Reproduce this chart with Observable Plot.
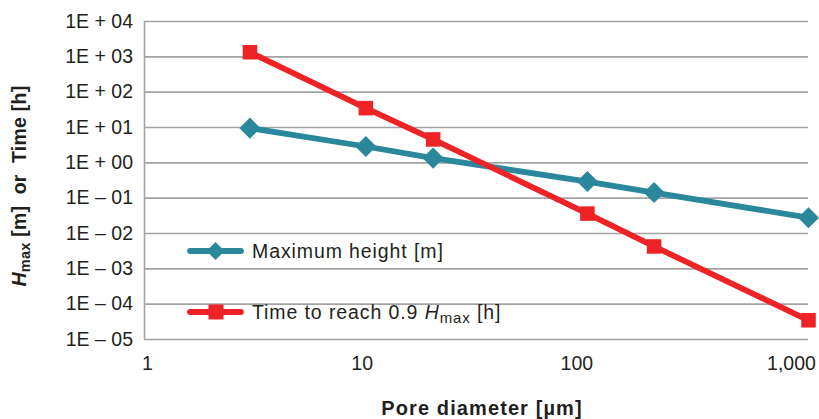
<!DOCTYPE html>
<html><head><meta charset="utf-8">
<script src="https://cdn.jsdelivr.net/npm/d3@7"></script>
<script src="https://cdn.jsdelivr.net/npm/@observablehq/plot@0.6"></script>
<style>
body{margin:0;background:#fff;font-family:"Liberation Sans",Arial,sans-serif;}
#c{position:relative;width:819px;height:419px;overflow:hidden}
</style>
</head><body><div id="c"></div>
<script>
const poreDiameter = [3, 10.4, 21.4, 112, 229, 1200];
const maxHeight = [9.6, 2.9, 1.36, 0.296, 0.144, 0.028];
const timeToReach = [1350, 35.3, 4.6, 0.0366, 0.0043, 0.000035];
const seriesNames = ["Maximum height [m]", "Time to reach 0.9 Hmax [h]"];
const seriesColors = ["#2b879b", "#ee2326"];
const yTicks = [1e-5, 1e-4, 1e-3, 1e-2, 1e-1, 1e0, 1e1, 1e2, 1e3, 1e4];
const yTickLabels = ["1E \u2013 05","1E \u2013 04","1E \u2013 03","1E \u2013 02","1E \u2013 01","1E + 00","1E + 01","1E + 02","1E + 03","1E + 04"];
const xTicks = [1, 10, 100, 1000];
const xTickLabels = ["1", "10", "100", "1,000"];

const rows = [];
poreDiameter.forEach((d, i) => rows.push({x: d, y: maxHeight[i], s: seriesNames[0]}));
poreDiameter.forEach((d, i) => rows.push({x: d, y: timeToReach[i], s: seriesNames[1]}));
const hRows = rows.filter(r => r.s === seriesNames[0]);
const tRows = rows.filter(r => r.s === seriesNames[1]);

const xDomain = [0.968, 1200];
const textColor = "#231f20";
const gridColor = "#a3a3a3";

const chart = Plot.plot({
  width: 819, height: 419,
  marginTop: 21, marginBottom: 80, marginLeft: 144, marginRight: 11,
  style: {fontFamily: "Liberation Sans, Arial, sans-serif", color: textColor, background: "#fff"},
  x: {type: "log", domain: xDomain},
  y: {type: "log", domain: [1e-5, 1e4]},
  marks: [
    Plot.gridY(yTicks, {stroke: gridColor, strokeOpacity: 1, strokeWidth: 1.6}),
    Plot.ruleX([xDomain[0]], {stroke: gridColor, strokeWidth: 1.6}),
    Plot.axisY({ticks: yTicks, tickSize: 0, tickPadding: 11.5, fontSize: 19.5, label: null,
      style: {letterSpacing: "0.75px"},
      tickFormat: (d) => yTickLabels[yTicks.findIndex(t => Math.abs(Math.log10(t) - Math.log10(d)) < 1e-6)]}),
    Plot.axisX({ticks: xTicks, tickSize: 0, tickPadding: 17, fontSize: 19.5, label: null,
      style: {letterSpacing: "0.5px"},
      tickFormat: (d) => xTickLabels[xTicks.findIndex(t => Math.abs(Math.log10(t) - Math.log10(d)) < 1e-6)]}),
    Plot.line(hRows, {x: "x", y: "y", stroke: seriesColors[0], strokeWidth: 5.8}),
    Plot.line(tRows, {x: "x", y: "y", stroke: seriesColors[1], strokeWidth: 5.8}),
    Plot.dot(hRows, {x: "x", y: "y", symbol: "diamond2", r: 9.5, fill: seriesColors[0], stroke: "none"}),
    Plot.dot(tRows, {x: "x", y: "y", symbol: "square", r: 8.2, fill: seriesColors[1], stroke: "none"})
  ]
});
document.getElementById("c").appendChild(chart);

const svg = d3.select(chart);
// y axis title
const yt = svg.append("text")
  .attr("transform", "translate(26,186) rotate(-90)")
  .attr("text-anchor", "middle")
  .attr("letter-spacing", "0.25px")
  .attr("font-weight", "bold").attr("font-size", 19.5).attr("fill", textColor);
yt.append("tspan").attr("font-style", "italic").text("H");
yt.append("tspan").attr("font-size", 14.5).attr("dy", 4).text("max");
yt.append("tspan").attr("dy", -4).text("\u00a0[m]\u00a0\u00a0or\u00a0\u00a0Time [h]");
// x axis title
svg.append("text").attr("x", 482).attr("y", 415)
  .attr("text-anchor", "middle").attr("font-weight", "bold").attr("font-size", 20)
  .attr("letter-spacing", "1.1px")
  .attr("fill", textColor).text("Pore diameter [\u00b5m]");

// legend
const legendY = [251, 312];
const leg = svg.append("g").attr("text-anchor", "start");
seriesNames.forEach((name, i) => {
  const y = legendY[i];
  leg.append("line").attr("x1", 190).attr("x2", 241).attr("y1", y).attr("y2", y)
    .attr("stroke", seriesColors[i]).attr("stroke-width", 5.8).attr("stroke-linecap", "round");
  if (i === 0) {
    leg.append("path").attr("d", `M215.5,${y-9}L224.5,${y}L215.5,${y+9}L206.5,${y}Z`).attr("fill", seriesColors[i]);
  } else {
    leg.append("rect").attr("x", 208.5).attr("y", y - 7.5).attr("width", 15).attr("height", 15).attr("fill", seriesColors[i]);
  }
  const t = leg.append("text").attr("x", 252).attr("y", y).attr("dy", "0.36em")
    .attr("text-anchor", "start").attr("letter-spacing", "0.9px")
    .attr("font-size", 19.5).attr("fill", textColor);
  if (i === 0) t.text(name);
  else {
    t.append("tspan").text("Time to reach 0.9 ");
    t.append("tspan").attr("font-style", "italic").text("H");
    t.append("tspan").attr("font-size", 15).attr("dy", 4).text("max");
    t.append("tspan").attr("dy", -4).text(" [h]");
  }
});
</script>
</body></html>
